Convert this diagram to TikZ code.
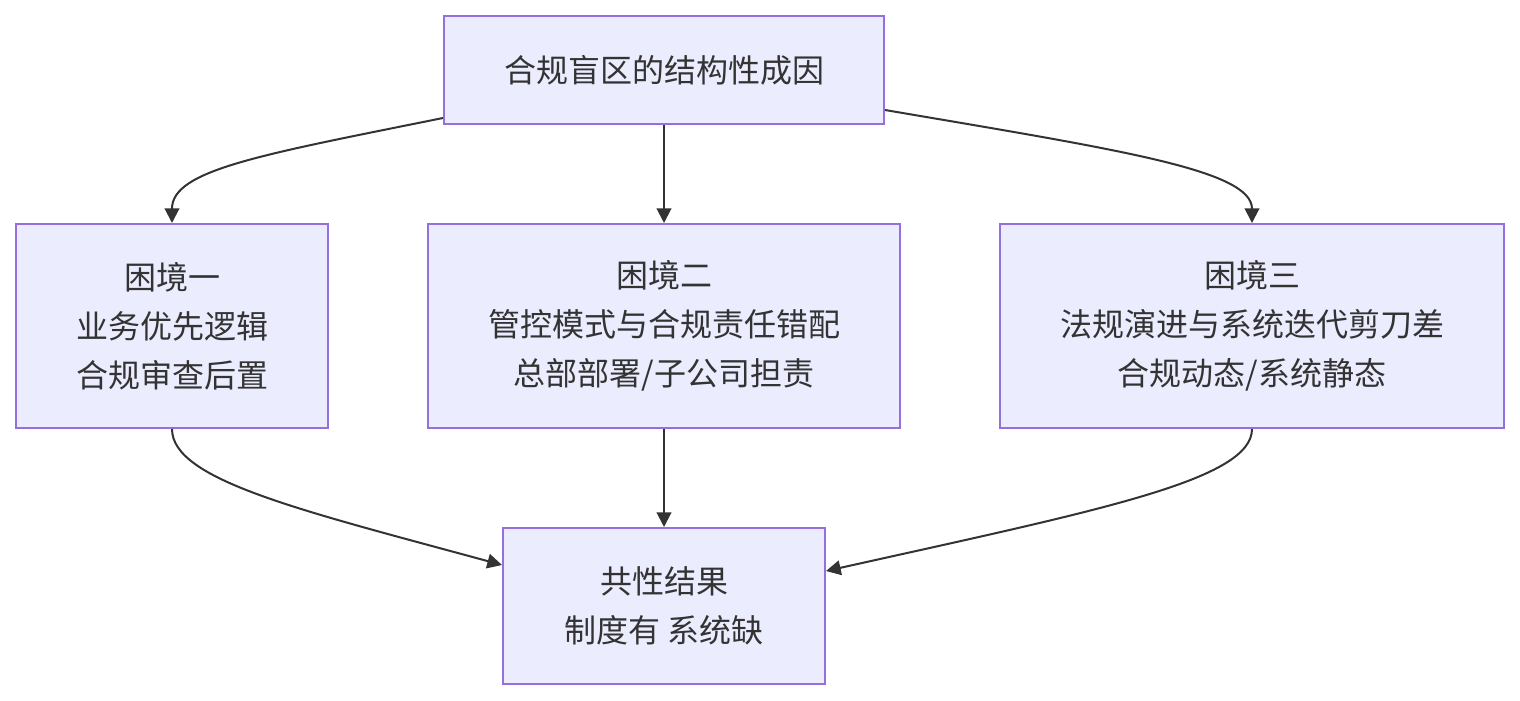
\documentclass[tikz,border=0pt]{standalone}
\usepackage{fontspec}
\setmainfont{Noto Sans CJK SC}
\usetikzlibrary{arrows.meta,calc}
\definecolor{boxfill}{HTML}{ECECFF}
\definecolor{boxline}{HTML}{9370DB}
\definecolor{ink}{HTML}{333333}
\begin{document}
\begin{tikzpicture}[x=0.75pt,y=-0.75pt,
  box/.style={draw=boxline,fill=boxfill,line width=1.5pt,inner sep=0pt,align=center,
    text=ink,font=\fontsize{24pt}{36.75pt}\selectfont},
  conn/.style={draw=ink,line width=1.5pt,-{Triangle[length=11pt,width=11pt]}}]
\useasboundingbox (0,0) rectangle (1520,700);
\node[box,minimum width=330pt,minimum height=81pt] (top) at (664,70) {合规盲区的结构性成因};
\node[box,minimum width=234pt,minimum height=153pt] (a) at (172,326) {困境一\\业务优先逻辑\\合规审查后置};
\node[box,minimum width=354pt,minimum height=153pt] (b) at (664,326) {困境二\\管控模式与合规责任错配\\总部部署/子公司担责};
\node[box,minimum width=378pt,minimum height=153pt] (c) at (1252,326) {困境三\\法规演进与系统迭代剪刀差\\合规动态/系统静态};
\node[box,minimum width=241.5pt,minimum height=117pt] (d) at (664,606) {共性结果\\制度有 系统缺};
\coordinate (t1) at ($(top.south west)+(0,-7)$);
\coordinate (t3) at ($(top.south east)+(0,-15)$);
\coordinate (d1) at ($(d.north west)+(0,38)$);
\coordinate (d3) at ($(d.north east)+(0,44)$);
\draw[conn] (t1) .. controls (260,155) and (172,170) .. (a.north);
\draw[conn] (top.south) -- (b.north);
\draw[conn] (t3) .. controls (1120,150) and (1252,170) .. (c.north);
\draw[conn] (a.south) .. controls (172,480) and (300,510) .. (d1);
\draw[conn] (b.south) -- (d.north);
\draw[conn] (c.south) .. controls (1252,480) and (1100,510) .. (d3);
\end{tikzpicture}
\end{document}
